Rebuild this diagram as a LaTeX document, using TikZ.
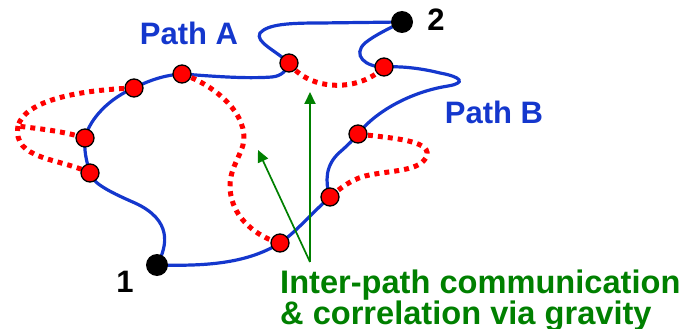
\documentclass[tikz,border=0pt]{standalone}
\usepackage{fontspec}
\setmainfont{Liberation Sans}
\usetikzlibrary{arrows.meta,backgrounds}
\definecolor{pathblue}{RGB}{20,55,205}
\definecolor{dotred}{RGB}{255,0,0}
\definecolor{arrgreen}{RGB}{0,128,0}
\tikzset{
  rdot/.style={circle,draw=black,line width=1.3pt,fill=dotred,minimum size=18pt,inner sep=0pt},
  bdot/.style={circle,fill=black,minimum size=22pt,inner sep=0pt},
  bluepath/.style={draw=pathblue,line width=3.2pt},
  redpath/.style={draw=dotred,line width=5pt,dash pattern=on 5pt off 5pt},
  grarrow/.style={draw=arrgreen,line width=2pt,-{Triangle[length=12pt,width=11pt]}},
  bluelab/.style={text=pathblue,font=\fontsize{31}{34}\selectfont\bfseries,inner sep=0pt},
  blacklab/.style={text=black,font=\fontsize{31}{34}\selectfont\bfseries,inner sep=0pt},
  greenlab/.style={text=arrgreen,font=\fontsize{32.6}{34}\selectfont\bfseries,inner sep=0pt,anchor=base west}
}
\begin{document}
\begin{tikzpicture}[x=1pt,y=-1pt]
\useasboundingbox (0,0) rectangle (681,329);
% endpoints
\node[bdot] (n1) at (157,265) {};
\node[bdot] (n2) at (402,22) {};
% path A dots
\node[rdot] (a1) at (90,173) {};
\node[rdot] (a2) at (85,138) {};
\node[rdot] (a3) at (134,88) {};
\node[rdot] (a4) at (182,74) {};
\node[rdot] (a5) at (289,63) {};
% path B dots
\node[rdot] (b1) at (280,243) {};
\node[rdot] (b2) at (330,197) {};
\node[rdot] (b3) at (358,134) {};
\node[rdot] (b4) at (384,67) {};
\coordinate (cusp) at (18,126);
\coordinate (g0) at (310,262);
\coordinate (t1) at (310,92);
\coordinate (t2) at (258,150);
\begin{scope}[on background layer]
% Path A
\path[bluepath] (n1.center) .. controls (168,245) and (172,220) .. (135,203)
   .. controls (105,190) and (92,182) .. (a1.center)
   .. controls (86,160) and (84,150) .. (a2.center)
   .. controls (90,118) and (110,98) .. (a3.center)
   .. controls (150,80) and (165,75) .. (a4.center)
   .. controls (210,76) and (245,79) .. (272,77)
   .. controls (282,76) and (287,70) .. (a5.center)
   .. controls (275,50) and (255,42) .. (260,33)
   .. controls (268,24) and (290,23) .. (320,23)
   -- (n2.center);
% Path B
\path[bluepath] (n1.center) .. controls (200,266) and (245,265) .. (b1.center)
   .. controls (295,233) and (315,210) .. (b2.center)
   .. controls (325,182) and (325,165) .. (340,152)
   .. controls (348,145) and (353,140) .. (b3.center)
   .. controls (375,112) and (410,92) .. (448,86)
   .. controls (466,83) and (462,77) .. (440,73)
   .. controls (420,68) and (400,66) .. (b4.center)
   .. controls (365,67) and (352,55) .. (365,43)
   .. controls (375,35) and (390,28) .. (n2.center);
% red dotted links
\path[redpath] (a3.center) .. controls (80,90) and (25,100) .. (cusp)
   .. controls (30,128) and (60,130) .. (a2.center);
\path[redpath] (cusp) .. controls (12,160) and (60,158) .. (a1.center);
\path[redpath] (a4.center) .. controls (215,85) and (250,115) .. (243,145)
   .. controls (238,162) and (225,175) .. (232,200)
   .. controls (238,222) and (260,238) .. (b1.center);
\path[redpath] (a5.center) .. controls (310,92) and (360,92) .. (b4.center);
\path[redpath] (b3.center) .. controls (390,138) and (430,140) .. (427,155)
   .. controls (422,172) and (390,170) .. (365,176)
   .. controls (350,180) and (338,190) .. (b2.center);
\end{scope}
% green arrows
\draw[grarrow] (g0) -- (t1);
\draw[grarrow,line width=1.7pt] (g0) -- (t2);
% labels
\node[bluelab] (labA) at (189,33) {Path A};
\node[bluelab] (labB) at (494,112) {Path B};
\node[blacklab] (lab1) at (125,282) {1};
\node[blacklab] (lab2) at (436,20) {2};
\node[greenlab] (gl1) at (280,293) {Inter-path communication};
\node[greenlab] (gl2) at (280,324) {\& correlation via gravity};
\end{tikzpicture}
\end{document}
